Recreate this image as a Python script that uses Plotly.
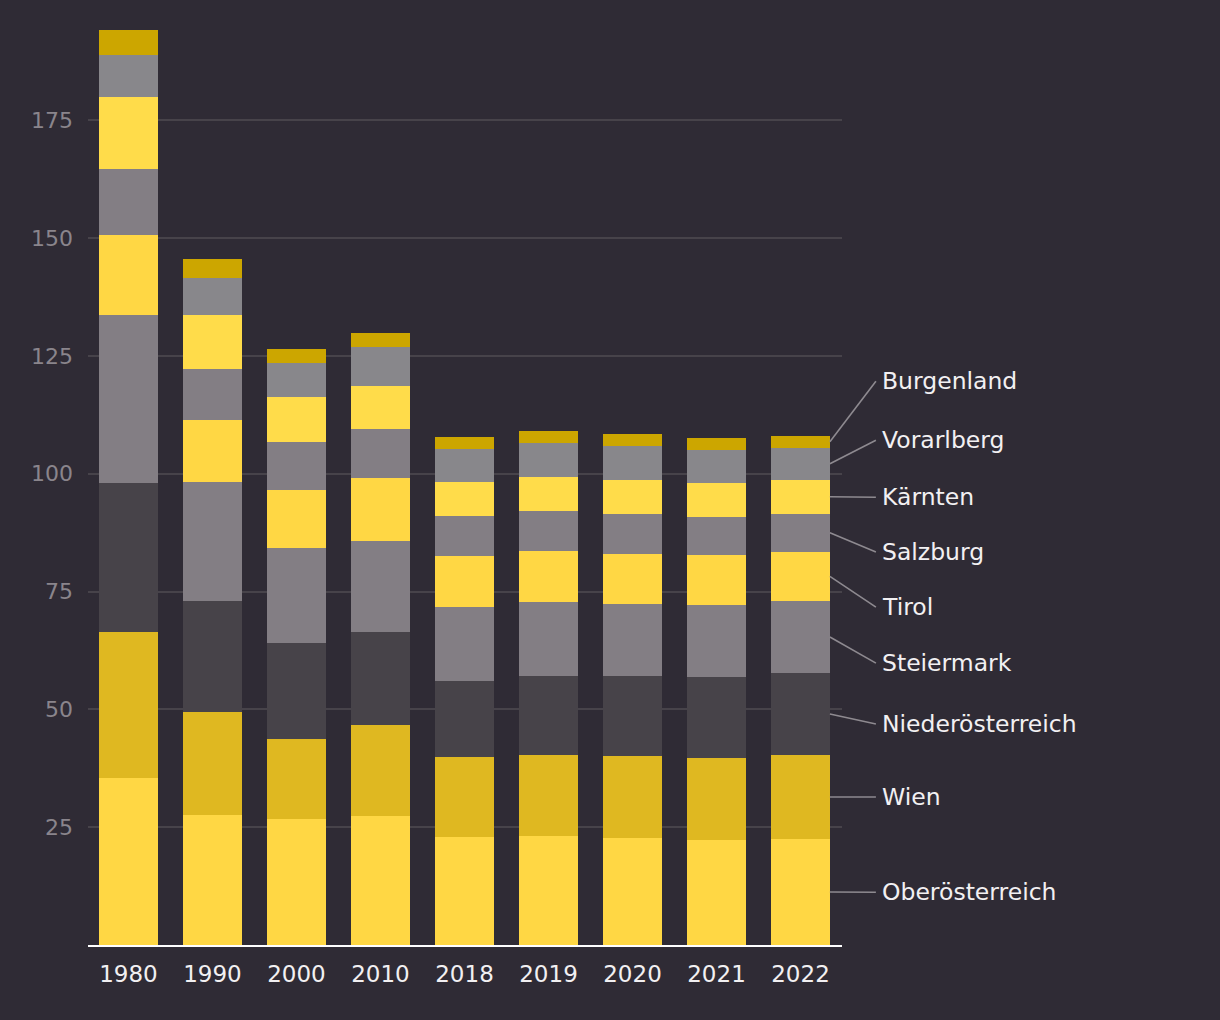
import plotly.graph_objects as go
import numpy as np

years = ["1980", "1990", "2000", "2010", "2018", "2019", "2020", "2021", "2022"]

# stacked from bottom to top
oberoesterreich = [35.4, 27.6, 26.7, 27.4, 22.9, 23.1, 22.7, 22.3, 22.5]
wien = [31.0, 21.8, 17.0, 19.3, 17.0, 17.2, 17.4, 17.4, 17.8]
niederoesterreich = [31.6, 23.6, 20.4, 19.7, 16.1, 16.8, 17.0, 17.2, 17.4]
steiermark = [35.6, 25.2, 20.2, 19.3, 15.7, 15.7, 15.3, 15.3, 15.3]
tirol = [17.0, 13.2, 12.3, 13.4, 10.8, 10.8, 10.6, 10.6, 10.4]
salzburg = [14.0, 10.8, 10.2, 10.4, 8.5, 8.5, 8.5, 8.1, 8.1]
kaernten = [15.3, 11.4, 9.5, 9.1, 7.2, 7.2, 7.2, 7.2, 7.2]
vorarlberg = [8.9, 7.9, 7.2, 8.3, 7.0, 7.2, 7.2, 7.0, 6.8]
burgenland = [5.3, 4.0, 3.0, 3.0, 2.5, 2.5, 2.5, 2.5, 2.6]

series_names = ["Oberösterreich", "Wien", "Niederösterreich", "Steiermark", "Tirol",
                "Salzburg", "Kärnten", "Vorarlberg", "Burgenland"]
series_values = [oberoesterreich, wien, niederoesterreich, steiermark, tirol,
                 salzburg, kaernten, vorarlberg, burgenland]
colors = ["#FFD744", "#DFB821", "#474349", "#837E84", "#FFD744",
          "#837E84", "#FFDC4A", "#88878B", "#CCA600"]

# label positions (y in data units) for the right-hand legend
label_y = [11.2, 31.4, 46.9, 59.8, 71.7, 83.4, 95.0, 107.1, 119.6]

y_ticks = [25, 50, 75, 100, 125, 150, 175]

BG = "#2F2B35"
FONT = "DejaVu Sans"
BAR_W = 0.70
X_RANGE = [-0.482, 8.494]
Y_RANGE = [0, 195]

x = list(range(len(years)))

fig = go.Figure()
for name, vals, col in zip(series_names, series_values, colors):
    fig.add_trace(go.Bar(
        x=x, y=vals, name=name, marker=dict(color=col, line=dict(width=0)),
        width=BAR_W, hoverinfo="skip", showlegend=False,
    ))


def px_x(v):
    return (v - X_RANGE[0]) / (X_RANGE[1] - X_RANGE[0])


def py_y(v):
    return (v - Y_RANGE[0]) / (Y_RANGE[1] - Y_RANGE[0])


# leader lines from middle of 2022 segments to labels
last = len(years) - 1
cum = 0.0
shapes = []
annotations = []
bar_edge = px_x(last + BAR_W / 2)
line_end = bar_edge + 46 / 754
text_x = bar_edge + 50 / 754
for name, vals, ly in zip(series_names, series_values, label_y):
    mid = cum + vals[last] / 2
    cum += vals[last]
    shapes.append(dict(type="line", xref="paper", yref="paper",
                       x0=bar_edge, y0=py_y(mid), x1=line_end, y1=py_y(ly),
                       line=dict(color="#8E8A90", width=1.6), layer="above"))
    annotations.append(dict(text=name, xref="paper", yref="paper", x=text_x, y=py_y(ly),
                            xanchor="left", yanchor="middle", showarrow=False,
                            font=dict(family=FONT, size=23.5, color="#F2F0F2")))

fig.update_layout(
    width=1220, height=1020,
    margin=dict(l=88, r=378, t=26, b=75),
    paper_bgcolor=BG, plot_bgcolor=BG,
    barmode="stack", bargap=0.3,
    shapes=shapes, annotations=annotations,
    font=dict(family=FONT),
    xaxis=dict(
        range=X_RANGE, tickvals=x, ticktext=years,
        showgrid=False, zeroline=False,
        showline=True, linecolor="#FFFFFF", linewidth=2,
        ticks="", ticklabelstandoff=7,
        tickfont=dict(family=FONT, size=23, color="#F2F0F2"),
        fixedrange=True,
    ),
    yaxis=dict(
        range=Y_RANGE, tickvals=y_ticks,
        showgrid=True, gridcolor="#47434A", gridwidth=1.6,
        zeroline=False, showline=False, ticks="",
        ticklabelstandoff=14,
        tickfont=dict(family=FONT, size=22, color="#8A858C"),
        fixedrange=True,
    ),
)

fig.write_html("out.html")
